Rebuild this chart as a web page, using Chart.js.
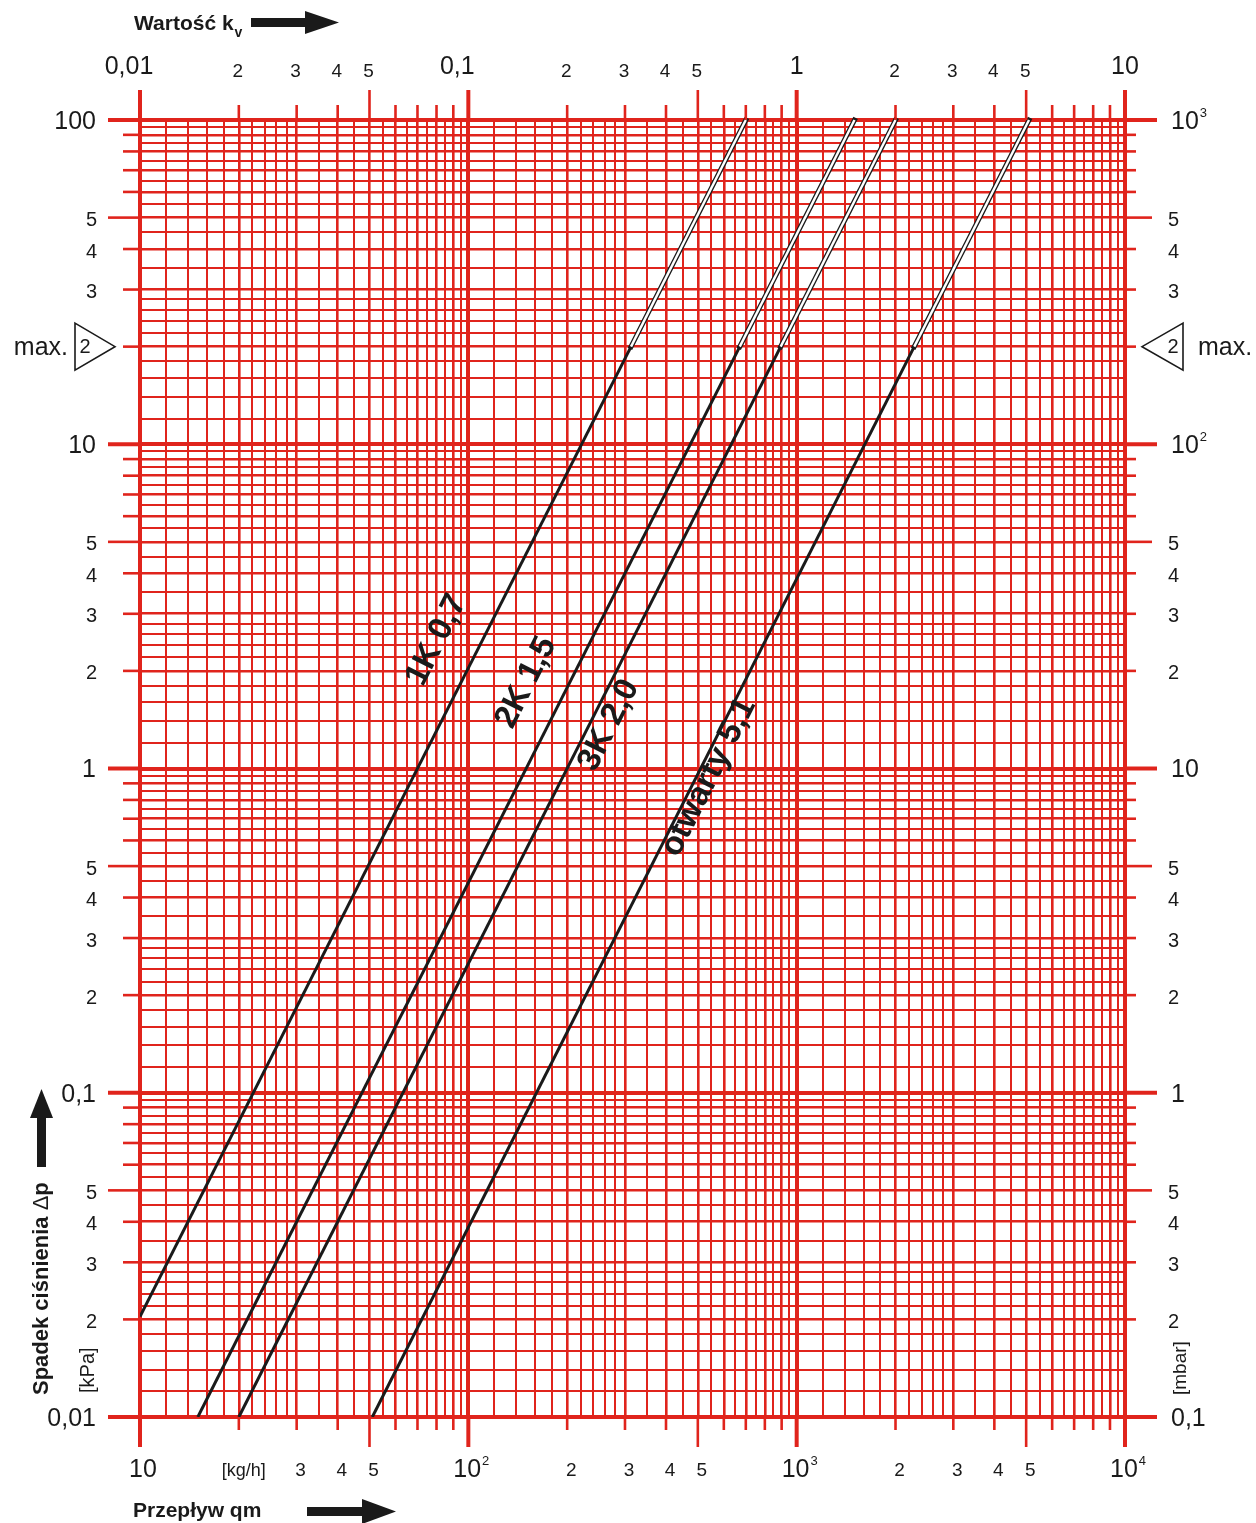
<!DOCTYPE html>
<html>
<head>
<meta charset="utf-8">
<title>Spadek ciśnienia - przepływ</title>
<script src="https://cdn.jsdelivr.net/npm/chart.js@4.4.1/dist/chart.umd.min.js"></script>
<style>
  html, body { margin: 0; padding: 0; background: #fff; }
  canvas { display: block; }
</style>
</head>
<body>
<canvas id="chart" width="1256" height="1523"></canvas>
<script>
// Grid lines inside one decade
const gridMantissas = [1, 1.2, 1.4, 1.6, 1.8, 2, 2.2, 2.4, 2.6, 2.8, 3, 3.5, 4, 4.5, 5, 5.5, 6, 6.5, 7, 7.5, 8, 8.5, 9, 9.5];
const digitLabels = ['2', '3', '4', '5'];

// Axes: decades and their labels ([text, superscript])
const qmDecades = [10, 100, 1000, 10000];
const qmDecadeLabels = [['10', ''], ['10', '2'], ['10', '3'], ['10', '4']];
const kvDecades = [0.01, 0.1, 1, 10];
const kvDecadeLabels = [['0,01', ''], ['0,1', ''], ['1', ''], ['10', '']];
const dpDecades = [0.01, 0.1, 1, 10, 100];
const dpDecadeLabels = [['0,01', ''], ['0,1', ''], ['1', ''], ['10', ''], ['100', '']];
const mbarDecades = [0.1, 1, 10, 100, 1000];
const mbarDecadeLabels = [['0,1', ''], ['1', ''], ['10', ''], ['10', '2'], ['10', '3']];

// Curves: flow [kg/h] and pressure drop [kPa] (start, max. point, end)
const curveNames = ['1K 0,7', '2K 1,5', '3K 2,0', 'otwarty 5,1'];
const curveQm = [[10, 313, 700], [15, 671, 1500], [20, 894, 2000], [51, 2281, 5100]];
const curveDp = [[0.0204, 20, 100], [0.01, 20, 100], [0.01, 20, 100], [0.01, 20, 100]];
const labelQm = [80, 150, 268, 540];
const labelDp = [2.49, 1.84, 1.36, 0.94];
const maxDp = 20; // kPa

const RED = '#e0241c';
const FONT = '"Liberation Sans", Arial, Helvetica, sans-serif';

function tickKind(m) {
    if (m === 1) return 'decade';
    if (m === 5) return 'five';
    if (Number.isInteger(m)) return 'digit';
    return 'minor';
}

// Replace the default log ticks with the dense grid
function buildGrid(scale) {
    const lo = Math.round(Math.log10(scale.min));
    const hi = Math.round(Math.log10(scale.max));
    const ticks = [];
    for (let e = lo; e < hi; e++) {
        gridMantissas.forEach(m => {
            const value = e < 0 ? m / Math.pow(10, -e) : m * Math.pow(10, e);
            ticks.push({ value: value, kind: tickKind(m) });
        });
    }
    ticks.push({ value: scale.max, kind: 'decade' });
    scale.ticks = ticks;
}

function gridWidth(ctx) {
    if (!ctx.tick) return 1;
    switch (ctx.tick.kind) {
        case 'decade': return 4;
        case 'five':
        case 'digit': return 2.6;
        default: return 2;
    }
}

function num(v, d) {
    return Number(d) * v;
}

function label(ctx, parts, x, y, size, align) {
    const main = parts[0], sup = parts[1];
    const supSize = Math.round(size * 0.5);
    ctx.font = size + 'px ' + FONT;
    const w = ctx.measureText(main).width;
    ctx.font = supSize + 'px ' + FONT;
    const ws = sup ? ctx.measureText(sup).width + 1 : 0;
    let x0 = x;
    if (align === 'center') x0 = x - (w + ws) / 2;
    if (align === 'right') x0 = x - (w + ws);
    ctx.textAlign = 'left';
    ctx.textBaseline = 'middle';
    ctx.font = size + 'px ' + FONT;
    ctx.fillText(main, x0, y);
    if (sup) {
        ctx.font = supSize + 'px ' + FONT;
        ctx.fillText(sup, x0 + w + 1, y - size * 0.36);
    }
}

function seg(ctx, x1, y1, x2, y2) {
    ctx.beginPath();
    ctx.moveTo(x1, y1);
    ctx.lineTo(x2, y2);
    ctx.stroke();
}

// Everything outside the plot: tick marks, labels, titles, arrows
const framePlugin = {
    id: 'frame',
    afterDraw(chart) {
        const ctx = chart.ctx;
        const area = chart.chartArea;
        const xs = chart.scales.x, ys = chart.scales.y;
        const kv = chart.scales.x2, mbar = chart.scales.y2;
        ctx.save();

        // outer tick marks
        ctx.strokeStyle = RED;
        ctx.lineCap = 'butt';
        xs.ticks.forEach(t => {
            if (t.kind === 'minor') return;
            const px = xs.getPixelForValue(t.value);
            const long = t.kind !== 'digit';
            ctx.lineWidth = t.kind === 'decade' ? 4 : 2.6;
            seg(ctx, px, area.top - (long ? 30 : 15), px, area.top);
            seg(ctx, px, area.bottom, px, area.bottom + (long ? 30 : 13));
        });
        ys.ticks.forEach(t => {
            if (t.kind === 'minor') return;
            const py = ys.getPixelForValue(t.value);
            const long = t.kind !== 'digit';
            ctx.lineWidth = t.kind === 'decade' ? 4 : 2.6;
            seg(ctx, area.left - (long ? 32 : 17), py, area.left, py);
            seg(ctx, area.right, py, area.right + (t.kind === 'decade' ? 32 : long ? 27 : 11), py);
        });

        ctx.fillStyle = '#1a1a1a';

        // top axis: kv
        kvDecades.forEach((v, i) => {
            const px = kv.getPixelForValue(v);
            const shift = kvDecadeLabels[i][0].indexOf(',') >= 0 ? -11 : 0;
            label(ctx, kvDecadeLabels[i], px + shift, 67, 25, 'center');
            if (i < kvDecades.length - 1) {
                digitLabels.forEach(d => {
                    label(ctx, [d, ''], kv.getPixelForValue(num(v, d)) - 1, 72, 19, 'center');
                });
            }
        });

        // bottom axis: qm
        qmDecades.forEach((v, i) => {
            const px = xs.getPixelForValue(v);
            label(ctx, qmDecadeLabels[i], px + 3, 1470, 25, 'center');
            if (i < qmDecades.length - 1) {
                digitLabels.forEach(d => {
                    const p = xs.getPixelForValue(num(v, d));
                    if (i === 0 && d === '2') {
                        label(ctx, ['[kg/h]', ''], p + 5, 1471, 18, 'center');
                    } else {
                        label(ctx, [d, ''], p + 4, 1471, 19, 'center');
                    }
                });
            }
        });

        // left axis: kPa
        dpDecades.forEach((v, i) => {
            label(ctx, dpDecadeLabels[i], 96, ys.getPixelForValue(v) + 2, 25, 'right');
            if (i < dpDecades.length - 1) {
                digitLabels.forEach(d => {
                    const val = num(v, d);
                    if (Math.abs(val - maxDp) < 1e-9) return;
                    label(ctx, [d, ''], 97, ys.getPixelForValue(val) + 3, 20, 'right');
                });
            }
        });

        // right axis: mbar
        mbarDecades.forEach((v, i) => {
            label(ctx, mbarDecadeLabels[i], 1171, mbar.getPixelForValue(v) + 2, 25, 'left');
            if (i < mbarDecades.length - 1) {
                digitLabels.forEach(d => {
                    const val = num(v, d);
                    if (Math.abs(val - maxDp * 10) < 1e-9) return;
                    label(ctx, [d, ''], 1168, mbar.getPixelForValue(val) + 3, 20, 'left');
                });
            }
        });

        // max. markers
        const my = ys.getPixelForValue(maxDp);
        ctx.strokeStyle = '#1a1a1a';
        ctx.lineWidth = 1.6;
        ctx.lineJoin = 'miter';
        ctx.beginPath();
        ctx.moveTo(75, my - 23.5); ctx.lineTo(115, my); ctx.lineTo(75, my + 23.5); ctx.closePath();
        ctx.stroke();
        ctx.beginPath();
        ctx.moveTo(1183, my - 23.5); ctx.lineTo(1142, my); ctx.lineTo(1183, my + 23.5); ctx.closePath();
        ctx.stroke();
        label(ctx, ['2', ''], 85, my + 1, 20, 'center');
        label(ctx, ['2', ''], 1173, my + 1, 20, 'center');
        ctx.font = '25px ' + FONT;
        ctx.textBaseline = 'alphabetic';
        ctx.textAlign = 'right';
        ctx.fillText('max.', 68, my + 8);
        ctx.textAlign = 'left';
        ctx.fillText('max.', 1198, my + 8);

        // titles
        ctx.textAlign = 'left';
        ctx.textBaseline = 'alphabetic';
        ctx.font = 'bold 21px ' + FONT;
        ctx.fillText('Wartość k', 134, 30);
        const wk = ctx.measureText('Wartość k').width;
        ctx.font = 'bold 14px ' + FONT;
        ctx.fillText('v', 134 + wk + 1, 37);
        ctx.font = 'bold 21px ' + FONT;
        ctx.fillText('Przepływ qm', 133, 1517);

        // vertical title: bold words, thin delta
        ctx.save();
        ctx.translate(48, 1395);
        ctx.rotate(-Math.PI / 2);
        ctx.font = 'bold 22px ' + FONT;
        ctx.fillText('Spadek ciśnienia ', 0, 0);
        let off = ctx.measureText('Spadek ciśnienia ').width;
        ctx.font = '22px ' + FONT;
        ctx.fillText('Δ', off, 0);
        off += ctx.measureText('Δ').width;
        ctx.font = 'bold 22px ' + FONT;
        ctx.fillText('p', off, 0);
        ctx.restore();

        ctx.save();
        ctx.translate(94, 1393);
        ctx.rotate(-Math.PI / 2);
        ctx.font = '20px ' + FONT;
        ctx.fillText('[kPa]', 0, 0);
        ctx.restore();

        ctx.save();
        ctx.translate(1186, 1395);
        ctx.rotate(-Math.PI / 2);
        ctx.font = '19px ' + FONT;
        ctx.fillText('[mbar]', 0, 0);
        ctx.restore();

        // arrows
        ctx.fillStyle = '#1a1a1a';
        ctx.fillRect(251, 18, 56, 9);
        ctx.beginPath();
        ctx.moveTo(305, 11); ctx.lineTo(339, 22.5); ctx.lineTo(305, 34); ctx.closePath();
        ctx.fill();

        ctx.fillRect(307, 1507, 57, 9);
        ctx.beginPath();
        ctx.moveTo(362, 1499); ctx.lineTo(396, 1511.5); ctx.lineTo(362, 1524); ctx.closePath();
        ctx.fill();

        ctx.fillRect(37, 1116, 9, 51);
        ctx.beginPath();
        ctx.moveTo(30, 1118); ctx.lineTo(41.5, 1089); ctx.lineTo(53, 1118); ctx.closePath();
        ctx.fill();

        ctx.restore();
    }
};

// Curve names written along the lines
const curveLabelPlugin = {
    id: 'curveLabels',
    afterDatasetsDraw(chart) {
        const ctx = chart.ctx;
        const xs = chart.scales.x, ys = chart.scales.y;
        ctx.save();
        ctx.fillStyle = '#1a1a1a';
        ctx.font = 'bold 33px ' + FONT;
        ctx.textAlign = 'center';
        ctx.textBaseline = 'middle';
        curveNames.forEach((name, i) => {
            const x0 = xs.getPixelForValue(curveQm[i][0]), y0 = ys.getPixelForValue(curveDp[i][0]);
            const x1 = xs.getPixelForValue(curveQm[i][2]), y1 = ys.getPixelForValue(curveDp[i][2]);
            const angle = Math.atan2(y1 - y0, x1 - x0);
            ctx.save();
            ctx.translate(xs.getPixelForValue(labelQm[i]), ys.getPixelForValue(labelDp[i]));
            ctx.rotate(angle);
            ctx.fillText(name, 0, 0);
            ctx.restore();
        });
        ctx.restore();
    }
};

// Datasets: solid part up to max., hollow double line above it
const datasets = [];
curveNames.forEach((name, i) => {
    const pts = curveQm[i].map((q, j) => ({ x: q, y: curveDp[i][j] }));
    datasets.push({
        label: name,
        data: pts.slice(0, 2),
        showLine: true,
        borderColor: '#1a1a1a',
        borderWidth: 3,
        pointRadius: 0,
        order: 2
    });
    datasets.push({
        label: name + ' (max)',
        data: pts.slice(1, 3),
        showLine: true,
        borderColor: '#1a1a1a',
        borderWidth: 5,
        borderCapStyle: 'square',
        pointRadius: 0,
        clip: false,
        order: 1
    });
    datasets.push({
        label: name + ' (inner)',
        data: pts.slice(1, 3),
        showLine: true,
        borderColor: '#ffffff',
        borderWidth: 2.4,
        pointRadius: 0,
        clip: false,
        order: 0
    });
});

function hiddenAxis(position, min, max) {
    return {
        type: 'logarithmic',
        position: position,
        min: min,
        max: max,
        grid: { display: false, drawTicks: false },
        border: { display: false },
        ticks: { display: false }
    };
}

function gridAxis(position, min, max) {
    return {
        type: 'logarithmic',
        position: position,
        min: min,
        max: max,
        afterBuildTicks: buildGrid,
        grid: {
            color: RED,
            lineWidth: gridWidth,
            drawTicks: false
        },
        border: { display: false },
        ticks: { display: false, autoSkip: false }
    };
}

new Chart(document.getElementById('chart'), {
    type: 'scatter',
    data: { datasets: datasets },
    options: {
        responsive: false,
        animation: false,
        events: [],
        layout: { padding: { left: 140, top: 120, right: 131, bottom: 106 } },
        scales: {
            x: gridAxis('bottom', qmDecades[0], qmDecades[qmDecades.length - 1]),
            y: gridAxis('left', dpDecades[0], dpDecades[dpDecades.length - 1]),
            x2: hiddenAxis('top', kvDecades[0], kvDecades[kvDecades.length - 1]),
            y2: hiddenAxis('right', mbarDecades[0], mbarDecades[mbarDecades.length - 1])
        },
        plugins: {
            legend: { display: false },
            tooltip: { enabled: false }
        }
    },
    plugins: [framePlugin, curveLabelPlugin]
});
</script>
</body>
</html>
